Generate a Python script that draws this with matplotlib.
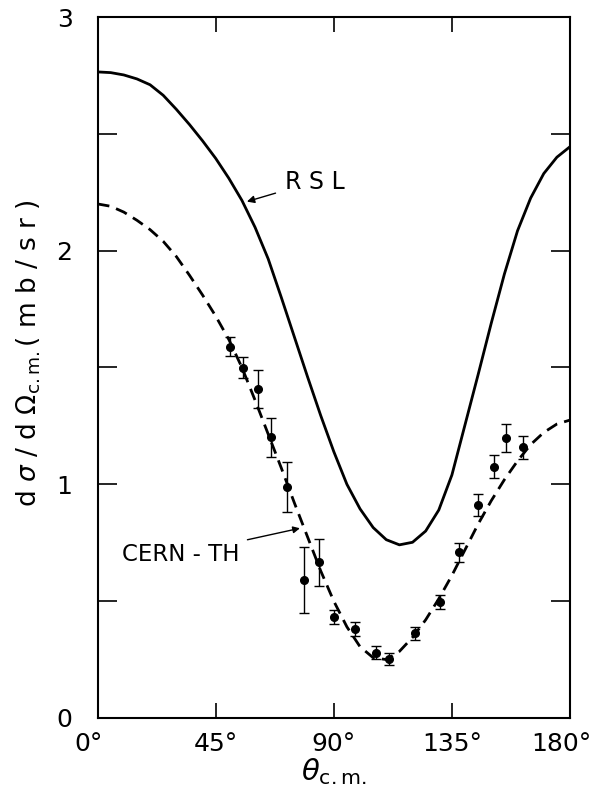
#!/usr/bin/env python3
# Differential cross section vs c.m. angle: RSL and CERN-TH curves with data

import matplotlib
matplotlib.use('Agg')
import matplotlib.pyplot as plt
from matplotlib.transforms import ScaledTranslation

# Measured points (theta in degrees, dsigma/dOmega in mb/sr, error)
theta_data = [50.5, 55.3, 61.0, 66.2, 72.1, 78.7, 84.5, 90.1, 98.1,
              106.0, 111.2, 120.8, 130.5, 137.7, 144.8, 150.9, 155.6, 162.0]
xsec_data = [1.589, 1.499, 1.408, 1.201, 0.990, 0.590, 0.666, 0.431, 0.380,
             0.279, 0.252, 0.362, 0.498, 0.709, 0.911, 1.075, 1.197, 1.158]
xsec_err = [0.040, 0.045, 0.083, 0.084, 0.107, 0.140, 0.100, 0.030, 0.030,
            0.028, 0.025, 0.027, 0.030, 0.040, 0.048, 0.050, 0.060, 0.050]

# Theory curves every 5 degrees
theta_curve = list(range(0, 181, 5))
# RSL prediction (solid)
xsec_rsl = [2.765, 2.762, 2.752, 2.735, 2.710, 2.665, 2.605, 2.540, 2.470,
            2.395, 2.310, 2.215, 2.100, 1.965, 1.800, 1.630, 1.460, 1.295,
            1.140, 1.000, 0.895, 0.815, 0.763, 0.741, 0.752, 0.800, 0.890,
            1.040, 1.255, 1.470, 1.690, 1.900, 2.085, 2.225, 2.330, 2.400,
            2.445]
# CERN-TH prediction (dashed)
xsec_cern = [2.200, 2.190, 2.165, 2.130, 2.090, 2.040, 1.975, 1.895, 1.810,
             1.720, 1.620, 1.500, 1.360, 1.215, 1.070, 0.920, 0.775, 0.630,
             0.500, 0.390, 0.305, 0.258, 0.250, 0.285, 0.345, 0.420, 0.510,
             0.610, 0.720, 0.830, 0.930, 1.020, 1.100, 1.170, 1.222, 1.258,
             1.275]

x_ticks = [0, 45, 90, 135, 180]
x_ticklabels = ['0°', '45°', '90°', '135°', '180°']
y_ticks = [0, 1, 2, 3]
y_minor = [0.5, 1.5, 2.5]

fig = plt.figure(figsize=(5.95, 7.91), dpi=100)
ax = fig.add_axes([0.164, 0.0923, 0.794, 0.8862])

ax.plot(theta_curve, xsec_rsl, color='black', lw=2.0)
ax.plot(theta_curve, xsec_cern, color='black', lw=2.0,
        linestyle=(0, (4.3, 2.6)))
ax.errorbar(theta_data, xsec_data, yerr=xsec_err, fmt='o', color='black',
            ms=5.5, elinewidth=1.0, capsize=3.5, capthick=1.0)

# Curve labels with arrows
ax.annotate('R S L', xy=(56.9, 2.210), xytext=(71.4, 2.296),
            fontsize=17, va='center', ha='left',
            arrowprops=dict(arrowstyle='-|>', color='black', lw=1.0,
                            shrinkA=5, shrinkB=0, mutation_scale=11))
ax.annotate('CERN - TH', xy=(77.1, 0.812), xytext=(9.2, 0.70),
            fontsize=16.5, va='center', ha='left',
            arrowprops=dict(arrowstyle='-|>', color='black', lw=1.0,
                            shrinkA=4, shrinkB=0, mutation_scale=10))

ax.set_xlim(0, 180)
ax.set_ylim(0, 3)
ax.set_xticks(x_ticks)
ax.set_xticklabels(x_ticklabels)
ax.set_yticks(y_ticks)
ax.set_yticks(y_minor, minor=True)

ax.tick_params(axis='x', which='major', direction='in', length=11,
               width=1.2, top=True, labelsize=18, pad=10)
ax.tick_params(axis='y', which='both', direction='in', length=14,
               width=1.2, right=True, labelsize=18, pad=18)
ax.tick_params(axis='y', which='minor', labelleft=False)

# the end labels sit a little to the left of their ticks
labels = ax.get_xticklabels()
for lab in (labels[0], labels[-1]):
    lab.set_transform(lab.get_transform() +
                      ScaledTranslation(-9 / 100, 0, fig.dpi_scale_trans))

for spine in ax.spines.values():
    spine.set_linewidth(1.5)

ax.set_xlabel(r'$\theta_{\mathrm{c.m.}}$', fontsize=21, labelpad=0)
ax.set_ylabel(r'd $\sigma$ / d $\Omega_{\mathrm{c.m.}}$( m b / s r )',
              fontsize=19, labelpad=12)
ax.yaxis.set_label_coords(-0.115, 0.52)

fig.savefig('out.png', dpi=100)
